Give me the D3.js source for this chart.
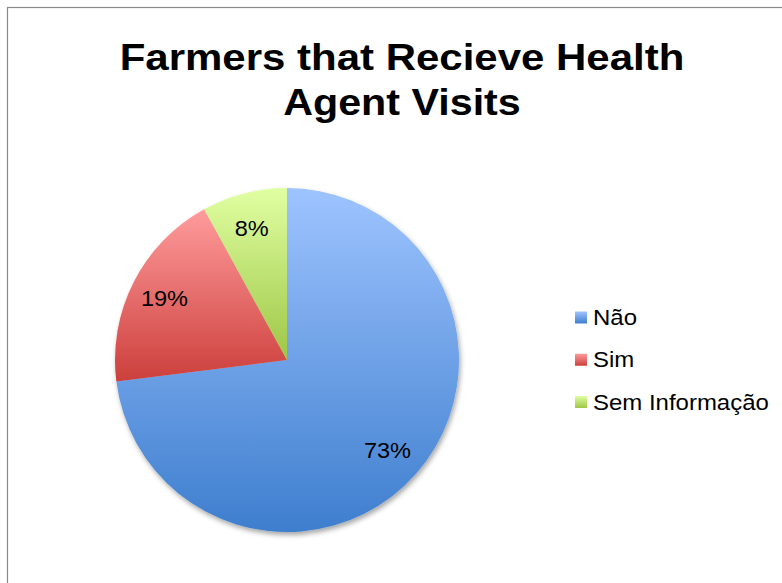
<!DOCTYPE html>
<html>
<head>
<meta charset="utf-8">
<script src="https://cdn.jsdelivr.net/npm/d3@7"></script>
<style>
  html, body { margin: 0; padding: 0; background: #fff; }
  svg { display: block; }
  text { font-family: "Liberation Sans", Arial, sans-serif; fill: #000; }
</style>
</head>
<body>
<script>
// Chart data
const categories = ["Não", "Sim", "Sem Informação"];
const values = [73, 19, 8];
const percentLabels = ["73%", "19%", "8%"];
const titleLines = ["Farmers that Recieve Health", "Agent Visits"];

// Gradient colours per slice: [top, bottom]
const gradients = [
  ["#9EC4FF", "#3E7ECE"],
  ["#FF9C9C", "#CC3F3C"],
  ["#E0FFA2", "#9EC646"]
];

const W = 782, H = 583;
const cx = 287, cy = 360, R = 172;

const svg = d3.select("body").append("svg")
  .attr("width", W).attr("height", H);

const defs = svg.append("defs");
gradients.forEach((g, i) => {
  const lg = defs.append("linearGradient")
    .attr("id", "grad" + i)
    .attr("x1", 0).attr("y1", 0).attr("x2", 0).attr("y2", 1);
  lg.append("stop").attr("offset", "0%").attr("stop-color", g[0]);
  lg.append("stop").attr("offset", "100%").attr("stop-color", g[1]);
});

const shadow = defs.append("filter").attr("id", "shadow")
  .attr("x", "-10%").attr("y", "-10%").attr("width", "120%").attr("height", "120%");
shadow.append("feDropShadow")
  .attr("dx", 1.5).attr("dy", 3).attr("stdDeviation", 2.5)
  .attr("flood-color", "#000").attr("flood-opacity", 0.35);

// Chart frame (left and top edges visible)
svg.append("rect")
  .attr("x", 7.5).attr("y", 7.5)
  .attr("width", W + 20).attr("height", H + 20)
  .attr("fill", "#fff").attr("stroke", "#8a8a8a").attr("stroke-width", 1.2);

// Title
const title = svg.append("g");
const titleY = [69.5, 115];
const titleScale = [1.135, 1.115];
titleLines.forEach((t, i) => {
  title.append("text")
    .attr("transform", `translate(402,${titleY[i]}) scale(${titleScale[i]},1)`)
    .attr("text-anchor", "middle")
    .attr("font-size", 37)
    .attr("font-weight", "bold")
    .text(t);
});

// Pie
const data = categories.map((c, i) => ({ name: c, value: values[i], label: percentLabels[i], idx: i }));
const pie = d3.pie().sort(null).value(d => d.value);
const arcs = pie(data);
const arc = d3.arc().innerRadius(0).outerRadius(R);

const pieG = svg.append("g")
  .attr("transform", `translate(${cx},${cy})`)
  .attr("filter", "url(#shadow)");

pieG.selectAll("path").data(arcs).enter().append("path")
  .attr("d", arc)
  .attr("fill", d => `url(#grad${d.data.idx})`);

// Percentage labels, placed inside each slice
const labelArc = d3.arc().innerRadius(R * 0.79).outerRadius(R * 0.79);
const labelG = svg.append("g").attr("transform", `translate(${cx},${cy})`);
labelG.selectAll("text").data(arcs).enter().append("text")
  .attr("transform", d => {
    const [x, y] = labelArc.centroid(d);
    return `translate(${x - 1.5},${y + 8}) scale(1.07,1)`;
  })
  .attr("text-anchor", "middle")
  .attr("font-size", 22)
  .text(d => d.data.label);

// Legend
const legend = svg.append("g");
const legendY = d3.scalePoint().domain(categories).range([317.5, 402]);
const item = legend.selectAll("g").data(data).enter().append("g")
  .attr("transform", d => `translate(575,${legendY(d.name)})`);
item.append("rect")
  .attr("x", 0).attr("y", -6).attr("width", 12).attr("height", 12)
  .attr("fill", d => `url(#grad${d.idx})`);
item.append("text")
  .attr("transform", "translate(18,7.5) scale(1.09,1)")
  .attr("font-size", 22)
  .text(d => d.name);
</script>
</body>
</html>
